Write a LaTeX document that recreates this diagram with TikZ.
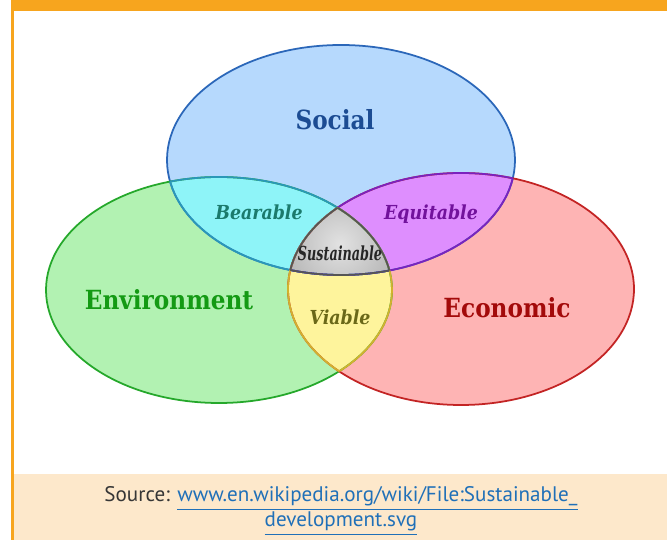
\documentclass[tikz,border=0pt]{standalone}
\usepackage{fontspec}
\setmainfont{DejaVu Serif}
\newfontfamily\vennFont[FakeStretch=0.88]{DejaVu Serif}
\newfontfamily\pairFont[FakeStretch=0.9]{DejaVu Serif}
\newfontfamily\coreFont[FakeStretch=0.66]{DejaVu Serif}
\newfontfamily\srcFont{PT Sans}
\definecolor{sdFrame}{HTML}{F7A51E}
\definecolor{sdNote}{HTML}{FDE8CB}
\definecolor{sdSocFill}{HTML}{B6D9FD}
\definecolor{sdSocLine}{HTML}{2B67B9}
\definecolor{sdSocText}{HTML}{1C4C93}
\definecolor{sdEnvFill}{HTML}{B2F2B2}
\definecolor{sdEnvLine}{HTML}{25A82B}
\definecolor{sdEnvText}{HTML}{149A14}
\definecolor{sdEcoFill}{HTML}{FEB4B4}
\definecolor{sdEcoLine}{HTML}{C32424}
\definecolor{sdEcoText}{HTML}{A30A0A}
\definecolor{sdBearFill}{HTML}{8EF4F8}
\definecolor{sdBearLine}{HTML}{2A98B8}
\definecolor{sdBearText}{HTML}{1B7A6C}
\definecolor{sdEquiFill}{HTML}{DE8EFE}
\definecolor{sdEquiLine}{HTML}{7B22BE}
\definecolor{sdEquiText}{HTML}{72129C}
\definecolor{sdViaFill}{HTML}{FEF49C}
\definecolor{sdViaLine}{HTML}{D2B22E}
\definecolor{sdViaText}{HTML}{6A6818}
\definecolor{sdCoreIn}{HTML}{E2E2E2}
\definecolor{sdCoreOut}{HTML}{B2B2B2}
\definecolor{sdCoreLine}{HTML}{555555}
\definecolor{sdSrcText}{HTML}{363636}
\definecolor{sdLink}{HTML}{2070B8}
\newcommand{\srcLink}[1]{\textcolor{sdLink}{\underline{#1}}}
\tikzset{
  socArea/.style={insert path={(socC) ellipse [x radius=174, y radius=115]}},
  envArea/.style={insert path={(envC) ellipse [x radius=173, y radius=113]}},
  ecoArea/.style={insert path={(ecoC) ellipse [x radius=173, y radius=116]}},
  rim/.style={line width=1pt},
  setLabel/.style={font=\vennFont\bfseries\fontsize{15}{17}\selectfont, anchor=base, inner sep=0pt},
  pairLabel/.style={font=\pairFont\bfseries\itshape\fontsize{11}{13}\selectfont, anchor=base, inner sep=0pt},
  coreLabel/.style={font=\coreFont\bfseries\itshape\fontsize{11}{13}\selectfont, anchor=base, inner sep=0pt, text=black!85},
  srcNote/.style={font=\srcFont\fontsize{12}{14}\selectfont, anchor=base, inner sep=0pt, text=sdSrcText},
}

\begin{document}
\begin{tikzpicture}[x=0.02cm,y=-0.02cm]
  \useasboundingbox (0,0) rectangle (667,540);
  \fill[white] (0,0) rectangle (667,540);
  \fill[sdNote] (14,474) rectangle (667,540);
  \fill[sdFrame] (11,0) rectangle (667,11);
  \fill[sdFrame] (11,0) rectangle (14,540);

  \coordinate (socC) at (341,160);
  \coordinate (envC) at (219,290);
  \coordinate (ecoC) at (461,289);
  \coordinate (coreC) at (340,244);

  \fill[sdSocFill, socArea];
  \fill[sdEnvFill, envArea];
  \fill[sdEcoFill, ecoArea];
  \begin{scope}
    \clip[socArea];
    \fill[sdBearFill, envArea];
    \fill[sdEquiFill, ecoArea];
  \end{scope}
  \begin{scope}
    \clip[envArea];
    \fill[sdViaFill, ecoArea];
  \end{scope}
  \begin{scope}
    \clip[socArea];
    \clip[envArea];
    \clip[ecoArea];
    \shade[inner color=sdCoreIn, outer color=sdCoreOut] (coreC) circle [radius=62];
  \end{scope}

  \draw[rim, sdSocLine, socArea];
  \draw[rim, sdEnvLine, envArea];
  \draw[rim, sdEcoLine, ecoArea];
  \begin{scope}\clip[envArea]; \draw[rim, sdBearLine, socArea]; \end{scope}
  \begin{scope}\clip[socArea]; \draw[rim, sdBearLine, envArea]; \end{scope}
  \begin{scope}\clip[ecoArea]; \draw[rim, sdEquiLine, socArea]; \end{scope}
  \begin{scope}\clip[socArea]; \draw[rim, sdEquiLine, ecoArea]; \end{scope}
  \begin{scope}\clip[ecoArea]; \draw[rim, sdViaLine, envArea]; \end{scope}
  \begin{scope}\clip[envArea]; \draw[rim, sdViaLine, ecoArea]; \end{scope}
  \begin{scope}\clip[envArea]; \clip[ecoArea]; \draw[rim, sdCoreLine, socArea]; \end{scope}
  \begin{scope}\clip[socArea]; \clip[ecoArea]; \draw[rim, sdCoreLine, envArea]; \end{scope}
  \begin{scope}\clip[socArea]; \clip[envArea]; \draw[rim, sdCoreLine, ecoArea]; \end{scope}

  \node[setLabel, text=sdSocText] (social) at (335,130) {Social};
  \node[setLabel, text=sdEnvText] (environment) at (169,310) {Environment};
  \node[setLabel, text=sdEcoText] (economic) at (507,318) {Economic};
  \node[pairLabel, text=sdBearText] (bearable) at (259,220) {Bearable};
  \node[pairLabel, text=sdEquiText] (equitable) at (431,220) {Equitable};
  \node[pairLabel, text=sdViaText] (viable) at (340,325) {Viable};
  \node[coreLabel] (sustainable) at (340,261) {Sustainable};

  \node[srcNote] (srcLineA) at (341,502)
    {Source: \srcLink{www.en.wikipedia.org/wiki/File:Sustainable\_}};
  \node[srcNote] (srcLineB) at (341,527) {\srcLink{development.svg}};
\end{tikzpicture}
\end{document}
